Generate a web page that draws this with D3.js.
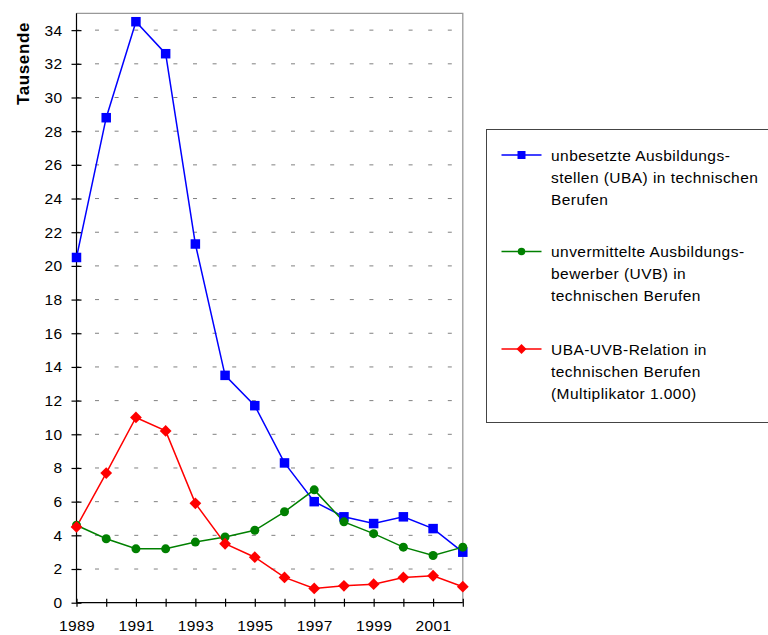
<!DOCTYPE html>
<html>
<head>
<meta charset="utf-8">
<script src="https://cdn.jsdelivr.net/npm/d3@7"></script>
<style>
  html, body { margin: 0; padding: 0; background: #fff; }
  svg { display: block; }
  text { font-family: "Liberation Sans", Arial, sans-serif; fill: #000; }
</style>
</head>
<body>
<svg id="chart" width="768" height="635"></svg>
<script>
const years = [1989,1990,1991,1992,1993,1994,1995,1996,1997,1998,1999,2000,2001,2002];
const uba = [20.5,28.8,34.5,32.6,21.3,13.5,11.7,8.3,6.0,5.1,4.7,5.1,4.4,3.0];
const uvb = [4.6,3.8,3.2,3.2,3.6,3.9,4.3,5.4,6.7,4.8,4.1,3.3,2.8,3.3];
const relation = [4.5,7.7,11.0,10.2,5.9,3.5,2.7,1.5,0.85,1.0,1.1,1.5,1.6,0.95];
const xTickLabels = [1989,1991,1993,1995,1997,1999,2001];
const yTicks = [0,2,4,6,8,10,12,14,16,18,20,22,24,26,28,30,32,34];
const yTitle = "Tausende";
const legendItems = [
  {lines:["unbesetzte Ausbildungs-","stellen (UBA) in technischen","Berufen"], color:"#0000ff", symbol:"square", values: uba},
  {lines:["unvermittelte Ausbildungs-","bewerber (UVB) in","technischen Berufen"], color:"#008000", symbol:"circle", values: uvb},
  {lines:["UBA-UVB-Relation in","technischen Berufen","(Multiplikator 1.000)"], color:"#ff0000", symbol:"diamond", values: relation}
];

(function () {
const svg = d3.select("#chart");
const pL = 76.5, pR = 462.8, pT = 13.3, pB = 602.7;

const x = d3.scaleLinear().domain([1989, 2002]).range([pL, pR]);
const y = d3.scaleLinear().domain([0, 35]).range([pB, pT]);

// gridlines
svg.append("g").selectAll("line")
  .data(yTicks.filter(d => d > 0))
  .join("line")
  .attr("x1", pL).attr("x2", pR - 2)
  .attr("y1", d => y(d)).attr("y2", d => y(d))
  .attr("stroke", "#808080").attr("stroke-width", 1)
  .attr("stroke-dasharray", "4,15.6").attr("stroke-dashoffset", 1.1);

// plot frame (top, right) gray
svg.append("path")
  .attr("d", `M${pL},${pT}H${pR}V${pB}`)
  .attr("fill", "none").attr("stroke", "#999").attr("stroke-width", 1.3);

// Y axis
const yAxis = d3.axisLeft(y).tickValues(yTicks).tickSize(5).tickPadding(9).tickFormat(d3.format("d"));
const gy = svg.append("g").attr("transform", `translate(${pL},0)`).call(yAxis);
gy.select(".domain").attr("stroke", "#000").attr("stroke-width", 1.2).attr("d", `M0,${pB}V${pT}`);
gy.selectAll(".tick line").attr("x1", -5).attr("x2", 5).attr("stroke", "#000").attr("stroke-width", 1.2);
gy.selectAll(".tick text").attr("font-size", "15.5px").attr("letter-spacing", "0.4px")
  .attr("font-family", "Liberation Sans, Arial, sans-serif").attr("fill", "#000");

// X axis
const xAxis = d3.axisBottom(x).tickValues(years).tickSize(4).tickFormat(d => xTickLabels.includes(d) ? String(d) : "");
const gx = svg.append("g").attr("transform", `translate(0,${pB})`).call(xAxis);
gx.select(".domain").attr("stroke", "#000").attr("stroke-width", 1.2).attr("d", `M${pL},0H${pR}`);
gx.selectAll(".tick line").attr("y1", -4).attr("y2", 4).attr("stroke", "#000").attr("stroke-width", 1.2);
gx.selectAll(".tick text").attr("y", 17.5).attr("dy", "0.71em").attr("font-size", "15.5px").attr("letter-spacing", "0.4px")
  .attr("font-family", "Liberation Sans, Arial, sans-serif").attr("fill", "#000");

// Y title
svg.append("text")
  .attr("transform", `translate(28.5,63.5) rotate(-90)`)
  .attr("text-anchor", "middle")
  .attr("font-size", "17px").attr("font-weight", "bold")
  .attr("letter-spacing", "0.6px")
  .text(yTitle);

// symbols
function drawSymbol(g, type, color, size) {
  if (type === "square") {
    g.append("rect").attr("x", -size/2).attr("y", -size/2).attr("width", size).attr("height", size).attr("fill", color);
  } else if (type === "circle") {
    g.append("circle").attr("r", size/2).attr("fill", color);
  } else {
    const s = size * 0.62;
    g.append("path").attr("d", `M0,${-s}L${s},0L0,${s}L${-s},0Z`).attr("fill", color);
  }
}

const line = d3.line().x((d, i) => x(years[i])).y(d => y(d));
legendItems.forEach(item => {
  svg.append("path").datum(item.values)
    .attr("d", line).attr("fill", "none")
    .attr("stroke", item.color).attr("stroke-width", 1.5);
});
legendItems.forEach(item => {
  item.values.forEach((v, i) => {
    const g = svg.append("g").attr("transform", `translate(${x(years[i])},${y(v)})`);
    drawSymbol(g, item.symbol, item.color, item.symbol === "circle" ? 9 : 9.5);
  });
});

// Legend
const lg = svg.append("g");
lg.append("rect").attr("x", 486.5).attr("y", 129.5).attr("width", 300).attr("height", 293)
  .attr("fill", "#fff").attr("stroke", "#444").attr("stroke-width", 1);
const groupTop = [155, 251.5, 349];
legendItems.forEach((item, k) => {
  const cy = groupTop[k];
  lg.append("line").attr("x1", 501.5).attr("x2", 541.5).attr("y1", cy).attr("y2", cy)
    .attr("stroke", item.color).attr("stroke-width", 1.5);
  const g = lg.append("g").attr("transform", `translate(521.5,${cy})`);
  drawSymbol(g, item.symbol, item.color, item.symbol === "circle" ? 7.5 : 8);
  item.lines.forEach((t, j) => {
    lg.append("text").attr("x", 551).attr("y", cy + j * 22.2).attr("dy", "0.36em")
      .attr("font-size", "15.5px").attr("letter-spacing", "0.45px").text(t);
  });
});
})();
</script>
</body>
</html>
